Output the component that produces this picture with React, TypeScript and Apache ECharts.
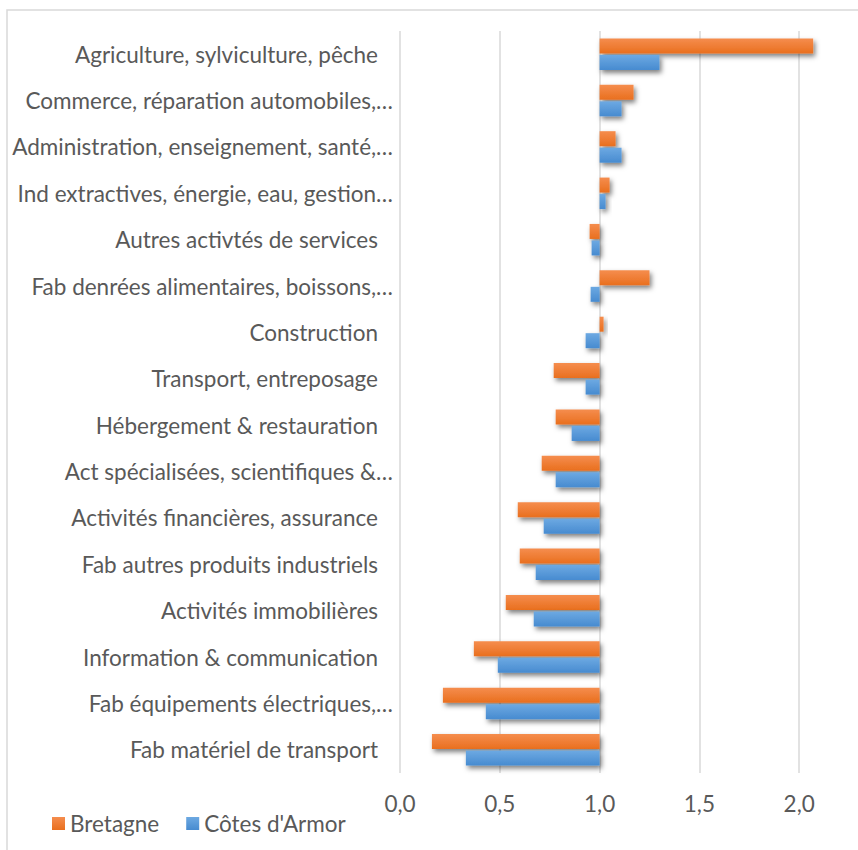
import React, { useEffect, useRef } from "react";
import * as echarts from "echarts";

const categories = [
  "Agriculture, sylviculture, pêche",
  "Commerce, réparation automobiles,…",
  "Administration, enseignement, santé,…",
  "Ind extractives, énergie, eau, gestion…",
  "Autres activtés de services",
  "Fab denrées alimentaires, boissons,…",
  "Construction",
  "Transport, entreposage",
  "Hébergement & restauration",
  "Act spécialisées, scientifiques &…",
  "Activités financières, assurance",
  "Fab autres produits industriels",
  "Activités immobilières",
  "Information & communication",
  "Fab équipements électriques,…",
  "Fab matériel de transport",
];

const bretagne = [2.07, 1.17, 1.08, 1.05, 0.95, 1.25, 1.02, 0.77, 0.78, 0.71, 0.59, 0.6, 0.53, 0.37, 0.215, 0.16];
const cotesArmor = [1.3, 1.11, 1.11, 1.03, 0.96, 0.955, 0.93, 0.93, 0.86, 0.78, 0.72, 0.68, 0.67, 0.49, 0.43, 0.33];

const BASELINE = 1.0;
const FONT = "Lato";
const FONT_SIZE = 22.5;
const TEXT_COLOR = "#595959";
const GRID_COLOR = "#d9d9d9";

const orangeGrad = new echarts.graphic.LinearGradient(0, 0, 0, 1, [
  { offset: 0, color: "#F58D4E" },
  { offset: 1, color: "#E96F1E" },
]);
const blueGrad = new echarts.graphic.LinearGradient(0, 0, 0, 1, [
  { offset: 0, color: "#6DA9E2" },
  { offset: 1, color: "#478BD0" },
]);

const shadow = {
  shadowBlur: 5,
  shadowOffsetX: 2,
  shadowOffsetY: 3,
  shadowColor: "rgba(0,0,0,0.5)",
};

function makeSeries(name: string, values: number[], color: any) {
  return [
    {
      name: name + "_base",
      type: "bar",
      stack: name,
      silent: true,
      barWidth: 15,
      barGap: "10%",
      itemStyle: { color: "transparent" },
      data: values.map((v) => Math.min(v, BASELINE)),
    },
    {
      name,
      type: "bar",
      stack: name,
      barWidth: 15,
      barGap: "10%",
      itemStyle: { color, ...shadow },
      data: values.map((v) => Math.abs(v - BASELINE)),
    },
  ];
}

export default function App() {
  const ref = useRef<HTMLDivElement>(null);
  useEffect(() => {
    if (!ref.current) return;
    const chart = echarts.init(ref.current, null, { renderer: "svg" });
    chart.setOption({
      animation: false,
      textStyle: { fontFamily: FONT, color: TEXT_COLOR },
      graphic: [
        {
          type: "polyline",
          shape: { points: [[7, 850], [7, 10], [858, 10]] },
          style: { stroke: GRID_COLOR, lineWidth: 1.5, fill: "none" },
          silent: true,
        },
      ],
      legend: {
        data: ["Bretagne", "Côtes d'Armor"],
        left: 52,
        top: 812,
        padding: 0,
        icon: "rect",
        itemWidth: 13,
        itemHeight: 13,
        itemGap: 27,
        textStyle: { fontFamily: FONT, fontSize: FONT_SIZE, color: TEXT_COLOR },
      },
      grid: { left: 400, width: 499, top: 31, bottom: 77, containLabel: false, outerBoundsMode: "none" },
      xAxis: {
        type: "value",
        min: 0,
        max: 2.5,
        interval: 0.5,
        axisLine: { show: false },
        axisTick: { show: false },
        splitLine: { show: true, lineStyle: { color: GRID_COLOR, width: 1.5 } },
        axisLabel: {
          margin: 19,
          fontSize: FONT_SIZE,
          fontFamily: FONT,
          color: TEXT_COLOR,
          showMaxLabel: false,
          formatter: (v: number) => v.toFixed(1).replace(".", ","),
        },
      },
      yAxis: {
        type: "category",
        inverse: true,
        data: categories.map((c) => ({
          value: c,
          textStyle: { padding: c.endsWith("…") ? 0 : [0, 15, 0, 0] },
        })),
        axisLine: { show: false },
        axisTick: { show: false },
        axisLabel: {
          margin: 7,
          fontSize: FONT_SIZE,
          fontFamily: FONT,
          color: TEXT_COLOR,
          interval: 0,
        },
      },
      series: [...makeSeries("Bretagne", bretagne, orangeGrad), ...makeSeries("Côtes d'Armor", cotesArmor, blueGrad)],
    });
    return () => chart.dispose();
  }, []);
  return (
    <div
      ref={ref}
      style={{ position: "absolute", left: 0, top: 0, width: 858, height: 850, background: "#fff", overflow: "hidden" }}
    />
  );
}
